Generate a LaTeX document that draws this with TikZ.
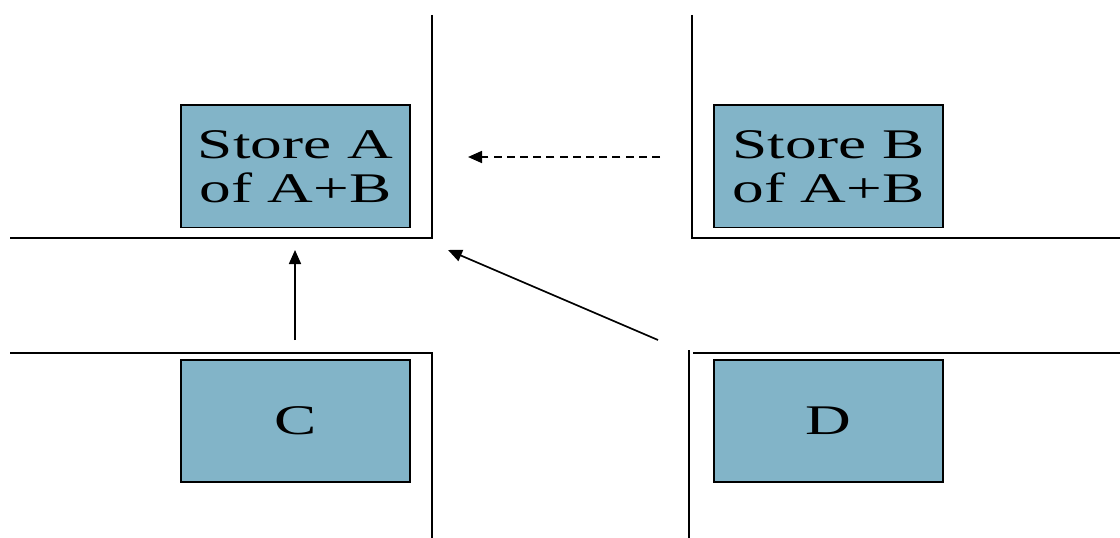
\documentclass[tikz,border=0pt]{standalone}
\usepackage{fontspec}
\setmainfont{Liberation Serif}
\usetikzlibrary{arrows.meta}

\definecolor{storeblue}{RGB}{130,180,200}
\newcommand{\wide}[1]{\scalebox{1.5}[1]{#1}}
\tikzset{
  store/.style={draw, line width=1.4pt, fill=storeblue,
    minimum width=5.7cm, minimum height=3.05cm, align=center,
    font=\fontsize{30}{31}\selectfont},
  wall/.style={line width=2.1pt},
  move/.style={line width=1.2pt, -{Triangle[length=3.5mm,width=3mm]}}
}

\begin{document}
\begin{tikzpicture}[x=0.025cm, y=-0.025cm]
            \useasboundingbox (0,0) rectangle (1120,538);

            % Draw the street corners
            \draw[wall] (432,15) -- (432,238) -- (10,238);
            \draw[wall] (692,15) -- (692,238) -- (1120,238);
            \draw[wall] (10,353) -- (432,353) -- (432,538);
            \draw[wall] (689,350) -- (689,538);
            \draw[wall] (693,353) -- (1120,353);

            % Draw the stores
            \node[store] (A) at (295.5,166.5) {\wide{Store A}\\\wide{of A+B}};
            \node[store] (B) at (828.5,166.5) {\wide{Store B}\\\wide{of A+B}};
            \node[store] (C) at (295.5,421) {\wide{C}};
            \node[store] (D) at (828.5,421) {\wide{D}};

            % Ends of the moves
            \coordinate (Bfrom) at (660,157);
            \coordinate (Bto) at (468,157);
            \coordinate (Cfrom) at (295,340);
            \coordinate (Cto) at (295,250);
            \coordinate (Dfrom) at (658,340);
            \coordinate (Dto) at (448,250);

            % Draw the moves
            \draw[move, dash pattern=on 0.2cm off 0.13cm] (Bfrom) -- (Bto);
            \draw[move] (Cfrom) -- (Cto);
            \draw[move] (Dfrom) -- (Dto);

        \end{tikzpicture}
\end{document}
